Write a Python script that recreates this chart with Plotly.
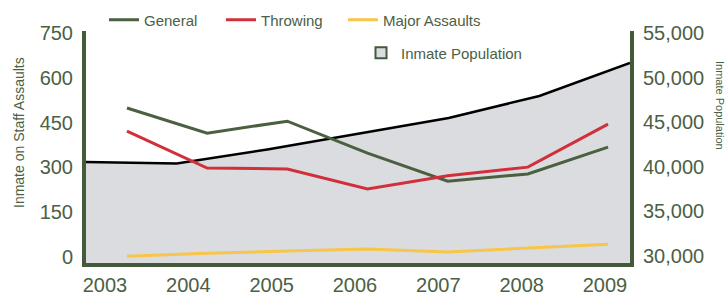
import plotly.graph_objects as go

years = [2003, 2004, 2005, 2006, 2007, 2008, 2009]
general = [499, 415, 455, 348, 254, 278, 368]
throwing = [422, 298, 295, 228, 272, 301, 445]
major = [3, 13, 20, 27, 17, 30, 43]
population = [40540, 40370, 41940, 43700, 45470, 47940, 51640]

left_ticks = [0, 150, 300, 450, 600, 750]
right_ticks = [30000, 35000, 40000, 45000, 50000, 55000]

TXT = "#4b6045"
AXG = "#435a3b"
FONT = "Liberation Sans, Arial, sans-serif"

W, H = 727, 296
ML, MR, MT, MB = 86, 97, 31, 33
PW, PH = W - ML - MR, H - MT - MB

def px(x):
    return (x - ML) / PW

def py(y):
    return (H - MB - y) / PH

fig = go.Figure()

# population area (main subplot x / y)
fig.add_trace(go.Scatter(
    x=years, y=population, mode="lines", fill="tozeroy",
    fillcolor="#dbdce0", line=dict(color="#000000", width=2.5),
    xaxis="x", yaxis="y", showlegend=False, hoverinfo="skip"))

# carrier for the year-label axis (draws nothing)
fig.add_trace(go.Scatter(x=years, y=[None] * len(years), mode="lines",
                         xaxis="x2", yaxis="y", showlegend=False,
                         hoverinfo="skip"))

# assault lines (overlay subplot x3 / y2)
for name, vals, col, lg in [("General", general, "#4a6040", "legend"),
                            ("Throwing", throwing, "#d12f3a", "legend2"),
                            ("Major Assaults", major, "#f7c548", "legend3")]:
    fig.add_trace(go.Scatter(x=years, y=vals, mode="lines", name=name,
                             line=dict(color=col, width=3),
                             xaxis="x3", yaxis="y2", legend=lg))

# legend proxy for population
fig.add_trace(go.Scatter(x=[None], y=[None], mode="markers", name="Inmate Population",
                         marker=dict(symbol="square", size=11, color="#dbdce0",
                                     line=dict(color=AXG, width=2)),
                         xaxis="x3", yaxis="y2", legend="legend4"))

def leg(xpix, ypix):
    return dict(x=px(xpix), y=py(ypix), xanchor="left", yanchor="middle",
                orientation="h", bgcolor="rgba(0,0,0,0)", borderwidth=0,
                font=dict(family=FONT, size=15, color=TXT), itemwidth=30)

fig.update_layout(
    width=W, height=H,
    margin=dict(l=ML, r=MR, t=MT, b=MB, pad=0, autoexpand=False),
    paper_bgcolor="white", plot_bgcolor="white",
    font=dict(family=FONT, color=TXT),
    showlegend=True,
    hovermode=False,
    legend=leg(104, 20),
    legend2=leg(221, 20),
    legend3=leg(343, 20),
    legend4=leg(361, 53),
    xaxis=dict(range=[2003, 2009], showticklabels=False, ticks="",
               showgrid=False, zeroline=False, showline=True,
               linecolor=AXG, linewidth=4, anchor="y"),
    xaxis2=dict(range=[2002.772, 2009.3], overlaying="x", anchor="y",
                side="bottom",
                tickvals=years, ticktext=[str(y) for y in years],
                showgrid=False, zeroline=False, showline=False, ticks="",
                tickfont=dict(family=FONT, size=20, color=TXT),
                ticklabelstandoff=8),
    xaxis3=dict(range=[2002.489, 2009.274], overlaying="x", anchor="y2",
                visible=False),
    yaxis=dict(range=[29215, 55224], side="right", tickvals=right_ticks,
               tickformat=",", showgrid=False, zeroline=False,
               showline=True, linecolor=AXG, linewidth=4, ticks="",
               tickfont=dict(family=FONT, size=20, color=TXT),
               ticklabelstandoff=5),
    yaxis2=dict(range=[-20, 757], overlaying="y", side="left", anchor="x3",
                tickvals=left_ticks, showgrid=False, zeroline=False,
                showline=True, linecolor=AXG, linewidth=4, ticks="",
                tickfont=dict(family=FONT, size=20, color=TXT),
                ticklabelstandoff=5),
    annotations=[
        dict(text="Inmate on Staff Assaults", xref="paper", yref="paper",
             x=px(19), y=py(133), xanchor="center", yanchor="middle",
             textangle=-90, showarrow=False,
             font=dict(family=FONT, size=14, color=TXT)),
        dict(text="Inmate Population", xref="paper", yref="paper",
             x=px(720), y=py(105), xanchor="center", yanchor="middle",
             textangle=90, showarrow=False,
             font=dict(family=FONT, size=11, color=TXT)),
    ],
)

fig.write_html("out.html", config={"displayModeBar": False},
               post_script="document.body.style.margin='0';document.body.style.overflow='hidden';")
